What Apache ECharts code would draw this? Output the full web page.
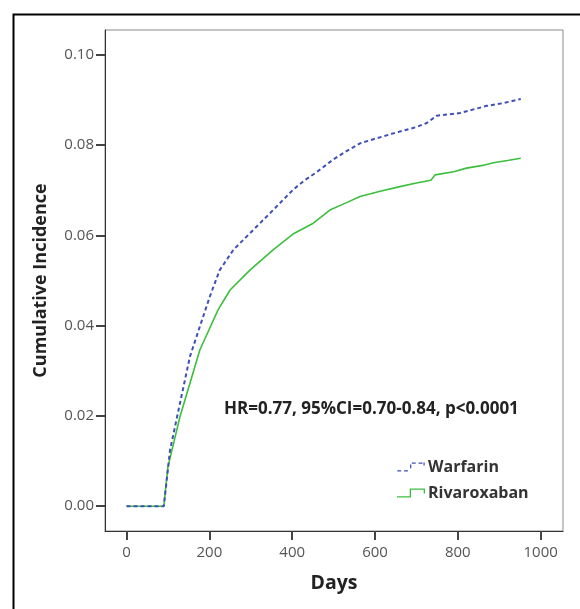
<!DOCTYPE html>
<html>
<head>
<meta charset="utf-8">
<script src="https://cdn.jsdelivr.net/npm/echarts@6/dist/echarts.min.js"></script>
<style>html,body{margin:0;padding:0;background:#fff;}#c{width:580px;height:609px;}</style>
</head>
<body>
<div id="c"></div>
<script>
var warfarinDays = [0, 90, 105, 129, 153, 177, 201, 225, 258, 306, 354, 402, 430, 459, 499, 530, 564, 600, 644, 700, 725, 749, 805, 870, 910, 942, 952];
var warfarinVals = [0, 0, 0.0124, 0.0228, 0.0331, 0.0398, 0.0464, 0.0523, 0.0568, 0.0612, 0.0656, 0.0701, 0.0722, 0.0740, 0.0768, 0.0786, 0.0804, 0.0814, 0.0826, 0.0840, 0.0849, 0.0865, 0.0871, 0.0887, 0.0893, 0.0900, 0.0902];
var rivaroxabanDays = [0, 90, 100, 129, 153, 177, 221, 250, 298, 354, 402, 451, 491, 530, 564, 610, 660, 700, 735, 745, 790, 821, 860, 886, 920, 952];
var rivaroxabanVals = [0, 0, 0.0087, 0.0198, 0.0272, 0.0346, 0.0435, 0.0479, 0.0523, 0.0568, 0.0603, 0.0627, 0.0656, 0.0672, 0.0686, 0.0697, 0.0708, 0.0716, 0.0722, 0.0734, 0.0741, 0.0749, 0.0755, 0.0761, 0.0766, 0.0771];
var xTicks = [0, 200, 400, 600, 800, 1000];
var yTicks = [0, 0.02, 0.04, 0.06, 0.08, 0.10];
var seriesNames = ['Warfarin', 'Rivaroxaban'];
var annotation = 'HR=0.77, 95%CI=0.70-0.84, p<0.0001';

function pairs(xs, ys) { return xs.map(function (x, i) { return [x, ys[i]]; }); }

var blue = '#3f4fb8';
var green = '#3cbf3c';
var font = '"Open Sans", Lato, sans-serif';

var chart = echarts.init(document.getElementById('c'), null, {renderer: 'canvas'});
chart.setOption({
  animation: false,
  backgroundColor: '#fff',
  grid: {left: 105, top: 30, right: 17, bottom: 78, show: true, borderColor: '#8a8a8a', borderWidth: 1, backgroundColor: 'transparent'},
  xAxis: {
    type: 'value', min: -52, max: 1054,
    name: 'Days', nameLocation: 'middle', nameGap: 42,
    nameTextStyle: {fontFamily: font, fontWeight: 'bold', fontSize: 19.5, color: '#222'},
    axisLine: {show: true, onZero: false, lineStyle: {color: '#333', width: 1}},
    axisTick: {show: true, length: 9, customValues: xTicks, lineStyle: {color: '#444', width: 2}},
    axisLabel: {customValues: xTicks, fontFamily: font, fontSize: 15, color: '#555', margin: 14,
      formatter: function (v) { return String(v); }},
    splitLine: {show: false}
  },
  yAxis: {
    type: 'value', min: -0.0055, max: 0.1055,
    name: 'Cumulative Incidence', nameLocation: 'middle', nameGap: 55,
    nameTextStyle: {fontFamily: font, fontWeight: 'bold', fontSize: 18, color: '#222'},
    axisLine: {show: true, onZero: false, lineStyle: {color: '#333', width: 1}},
    axisTick: {show: true, length: 9, customValues: yTicks, lineStyle: {color: '#444', width: 2}},
    axisLabel: {customValues: yTicks, fontFamily: font, fontSize: 15, color: '#555', margin: 11,
      formatter: function (v) { return v.toFixed(2); }},
    splitLine: {show: false}
  },
  legend: {
    left: 397, top: 459, orient: 'vertical', itemGap: 10, padding: 0,
    itemWidth: 28, itemHeight: 9,
    textStyle: {fontFamily: font, fontSize: 16, fontWeight: 'bold', color: '#333', padding: [0, 0, 0, -2]},
    data: [
      {name: 'Warfarin', icon: 'path://M0,8h4v1.3h-4z M7,8h4v1.3h-4z M13.2,2h1.3v4h-1.3z M15,0h4v1.3h-4z M22,0h4v1.3h-4z M27,0h1.3v3h-1.3z'},
      {name: 'Rivaroxaban', icon: 'path://M0,7.7h14v1.3h-14z M12.7,0h1.3v9h-1.3z M12.7,0h15v1.3h-15z M26.7,0h1.3v5h-1.3z'}
    ]
  },
  graphic: [
    {type: 'rect', left: 11, top: 12, shape: {width: 620, height: 640}, style: {fill: 'none', stroke: '#000', lineWidth: 2}, silent: true},
    {type: 'text', left: 224, top: 401, style: {text: annotation, fontFamily: font, fontWeight: 'bold', fontSize: 17, fill: '#222'}}
  ],
  series: [
    {name: seriesNames[0], type: 'line', data: pairs(warfarinDays, warfarinVals), showSymbol: false, symbol: 'none',
      color: blue, lineStyle: {color: blue, width: 2, type: [4, 3]}, z: 3},
    {name: seriesNames[1], type: 'line', data: pairs(rivaroxabanDays, rivaroxabanVals), showSymbol: false, symbol: 'none',
      color: green, lineStyle: {color: green, width: 1.6}, z: 2}
  ]
});
</script>
</body>
</html>
